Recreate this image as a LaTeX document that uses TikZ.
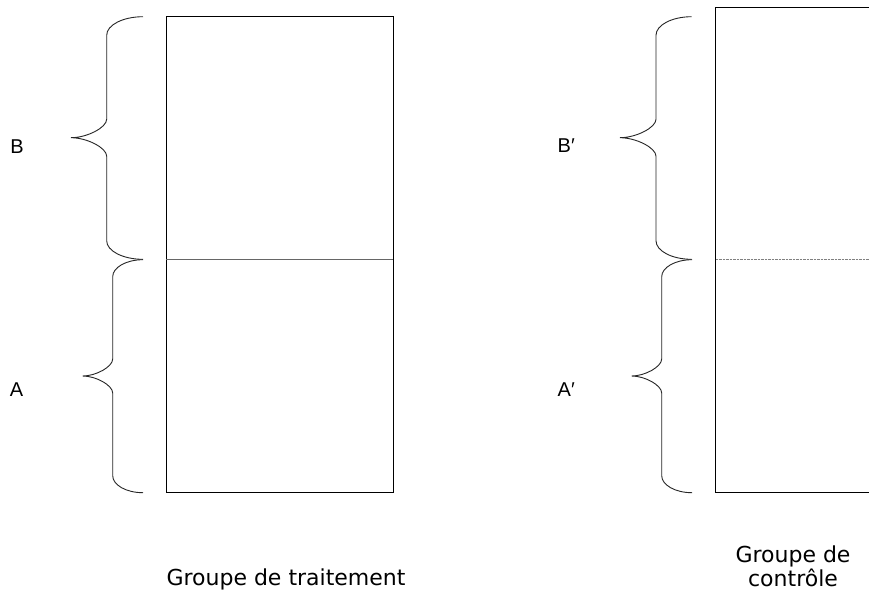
\documentclass[tikz,border=0pt]{standalone}
\usepackage{fontspec}
\setmainfont{DejaVu Sans}
\newfontfamily\lblfont{Liberation Sans}
\newcommand{\curlybr}[7]{% xe, xv, xt, ytop, ymid, ybot, r
  \draw[bracestyle] (#1,#4) .. controls ({#2+0.45*(#1-#2)},#4) and (#2,{#4+0.45*#7}) .. (#2,{#4+#7})
    -- (#2,{#5-#7}) .. controls (#2,{#5-0.55*#7}) and ({#3+0.45*(#2-#3)},#5) .. (#3,#5)
    .. controls ({#3+0.45*(#2-#3)},#5) and (#2,{#5+0.55*#7}) .. (#2,{#5+#7})
    -- (#2,{#6-#7}) .. controls (#2,{#6-0.45*#7}) and ({#2+0.45*(#1-#2)},#6) .. (#1,#6);}
\begin{document}
\begin{tikzpicture}[x=1pt,y=-1pt,
  bracestyle/.style={draw=black!85, line width=0.9pt},
  boxline/.style={draw=black, line width=0.9pt},
  midline/.style={draw=black!60, line width=0.8pt},
  lbl/.style={font=\lblfont\fontsize{20}{20}\selectfont, inner sep=0pt},
  grp/.style={font=\fontsize{22}{22}\selectfont, inner sep=0pt, align=center}]
\useasboundingbox[fill=white] (0,0) rectangle (869,590);
\clip (0,0) rectangle (869,590);
% treatment box
\coordinate (t1) at (166,16.7);
\coordinate (t2) at (393.3,492.7);
\coordinate (tm1) at (166,259.3);
\coordinate (tm2) at (393.3,259.3);
\draw[boxline] (t1) rectangle (t2);
\draw[midline] (tm1) -- (tm2);
% control box (runs off the right edge)
\coordinate (c1) at (880,7.3);
\coordinate (c2) at (715.7,7.3);
\coordinate (c3) at (715.7,492.7);
\coordinate (c4) at (880,492.7);
\coordinate (cm1) at (715.7,259.3);
\coordinate (cm2) at (880,259.3);
\draw[boxline] (c1) -- (c2) -- (c3) -- (c4);
\draw[draw=black!50, line width=0.7pt, dash pattern=on 0.7pt off 0.7pt] (cm1) -- (cm2);
% braces
\curlybr{143}{106.7}{71}{16.7}{137.7}{259.3}{18.5}
\curlybr{143}{112.7}{82.7}{259.7}{376}{492.7}{17}
\curlybr{691.7}{656}{620}{16.7}{137.7}{259.3}{18.5}
\curlybr{692}{661.7}{631.7}{259.7}{376}{492.7}{17}
% labels
\node[lbl] (B) at (17,146.5) {B};
\node[lbl] (A) at (16.5,390) {A};
\node[lbl, anchor=west] (Bp) at (557.5,145.5) {B\char"2032};
\node[lbl, anchor=west] (Ap) at (557.5,390) {A\char"2032};
\node[grp, anchor=base] (gt) at (286,585) {Groupe de traitement};
\node[grp, anchor=north] (gc) at (793,546) {Groupe de\\[0pt]contrôle};
\end{tikzpicture}
\end{document}
